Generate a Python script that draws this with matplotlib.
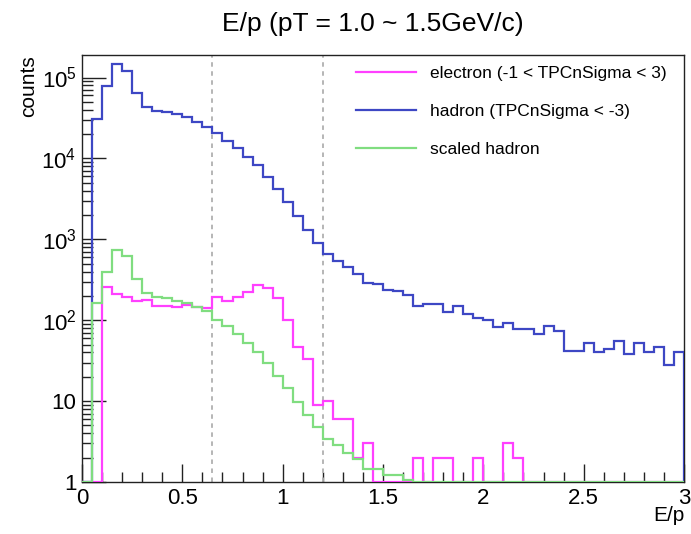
import matplotlib
matplotlib.use("Agg")
import matplotlib.pyplot as plt
from matplotlib.ticker import FuncFormatter, LogLocator, MultipleLocator
import numpy as np

plt.rcParams['font.family'] = ['Liberation Sans', 'DejaVu Sans']
plt.rcParams['mathtext.default'] = 'regular'

# E/p binning: 60 bins of 0.05 between 0 and 3
edges = np.linspace(0, 3, 61)

# counts (0 = empty bin)
electron = [0, 0, 259, 211, 195, 174, 179, 151, 151, 147,
            154, 144, 142, 195, 174, 195, 224, 272, 252, 187,
            100, 47, 33, 9, 10, 6, 6, 2, 3, 0,
            0, 0, 0, 2, 0, 2, 2, 0, 0, 2,
            0, 0, 3, 2, 0, 0, 0, 0, 0, 0,
            0, 0, 0, 0, 0, 0, 0, 0, 0, 0]
hadron = [0, 30600, 79000, 148000, 119000, 64000, 42700, 38900, 37400, 35300,
          32400, 28200, 24200, 20400, 16600, 13500, 10500, 8200, 5900, 4200,
          2910, 1940, 1320, 911, 667, 542, 457, 372, 290, 280,
          234, 232, 207, 151, 159, 159, 125, 151, 119, 107,
          102, 82, 92, 78, 78, 68, 86, 73, 42, 42,
          52, 41, 44, 55, 38, 52, 41, 47, 28, 41]
scaled_hadron = [0, 162, 400, 735, 625, 323, 217, 195, 186, 174,
                 162, 144, 129, 102, 84, 68, 53, 41, 29.4, 20.7,
                 14.5, 9.75, 6.8, 4.8, 3.36, 2.86, 2.26, 1.9, 1.45, 1.45,
                 1.22, 1.22, 1.06, 0, 0, 0, 0, 0, 0, 0,
                 0, 0, 0, 0, 0, 0, 0, 0, 0, 0,
                 0, 0, 0, 0, 0, 0, 0, 0, 0, 0]

cuts = [0.65, 1.2]
labels = ["electron (-1 < TPCnSigma < 3)", "hadron (TPCnSigma < -3)", "scaled hadron"]
colors = ["#ff40ff", "#3d47c4", "#80dd80"]

ymin, ymax = 1, 1.9e5

fig = plt.figure(figsize=(6.91, 5.34), dpi=100)
ax = fig.add_axes([0.1187, 0.0974, 0.8712, 0.7996])

for i, h in enumerate([electron, hadron, scaled_hadron]):
    # ROOT draws empty / sub-minimum bins on the bottom axis
    vals = np.clip(np.array(h, dtype=float), ymin, None)
    ax.stairs(vals, edges, baseline=ymin, color=colors[i], lw=1.6,
              label=labels[i], zorder=3 + (i == 2))

for c in cuts:
    ax.axvline(c, color="#b0b0b0", lw=1.3, ls=(0, (2.5, 2.5)), zorder=2)

ax.set_yscale("log")
ax.set_xlim(0, 3)
ax.set_ylim(ymin, ymax)

def fmt(v, pos):
    e = int(round(np.log10(v)))
    if e == 0:
        return "1"
    if e == 1:
        return "10"
    return "$10^{%d}$" % e

ax.yaxis.set_major_locator(LogLocator(base=10, numticks=10))
ax.yaxis.set_minor_locator(LogLocator(base=10, subs=np.arange(2, 10), numticks=20))
ax.yaxis.set_major_formatter(FuncFormatter(fmt))
ax.yaxis.set_minor_formatter(FuncFormatter(lambda v, p: ""))
ax.xaxis.set_major_locator(MultipleLocator(0.5))
ax.xaxis.set_minor_locator(MultipleLocator(0.1))
ax.xaxis.set_major_formatter(FuncFormatter(lambda v, p: "%g" % v))

ax.tick_params(which="both", direction="in", labelsize=16, width=1, color="#222222")
ax.tick_params(axis="y", which="major", length=17, pad=4)
ax.tick_params(axis="y", which="minor", length=8)
ax.tick_params(axis="x", which="major", length=13, pad=4)
ax.tick_params(axis="x", which="minor", length=7)
for s in ax.spines.values():
    s.set_color("#222222")
    s.set_linewidth(1)

fig.text(0.54, 0.955, "E/p (pT = 1.0 ~ 1.5GeV/c)", ha="center", va="center", fontsize=19)
fig.text(0.042, 0.897, "counts", rotation=90, ha="center", va="top", fontsize=15)
fig.text(0.99, 0.035, "E/p", ha="right", va="center", fontsize=15)

ax.legend(loc="upper left", bbox_to_anchor=(0.443, 0.99), frameon=False,
          fontsize=12.5, handlelength=3.45, handletextpad=0.85, labelspacing=1.3,
          borderaxespad=0)

fig.savefig("out.png", dpi=100)
